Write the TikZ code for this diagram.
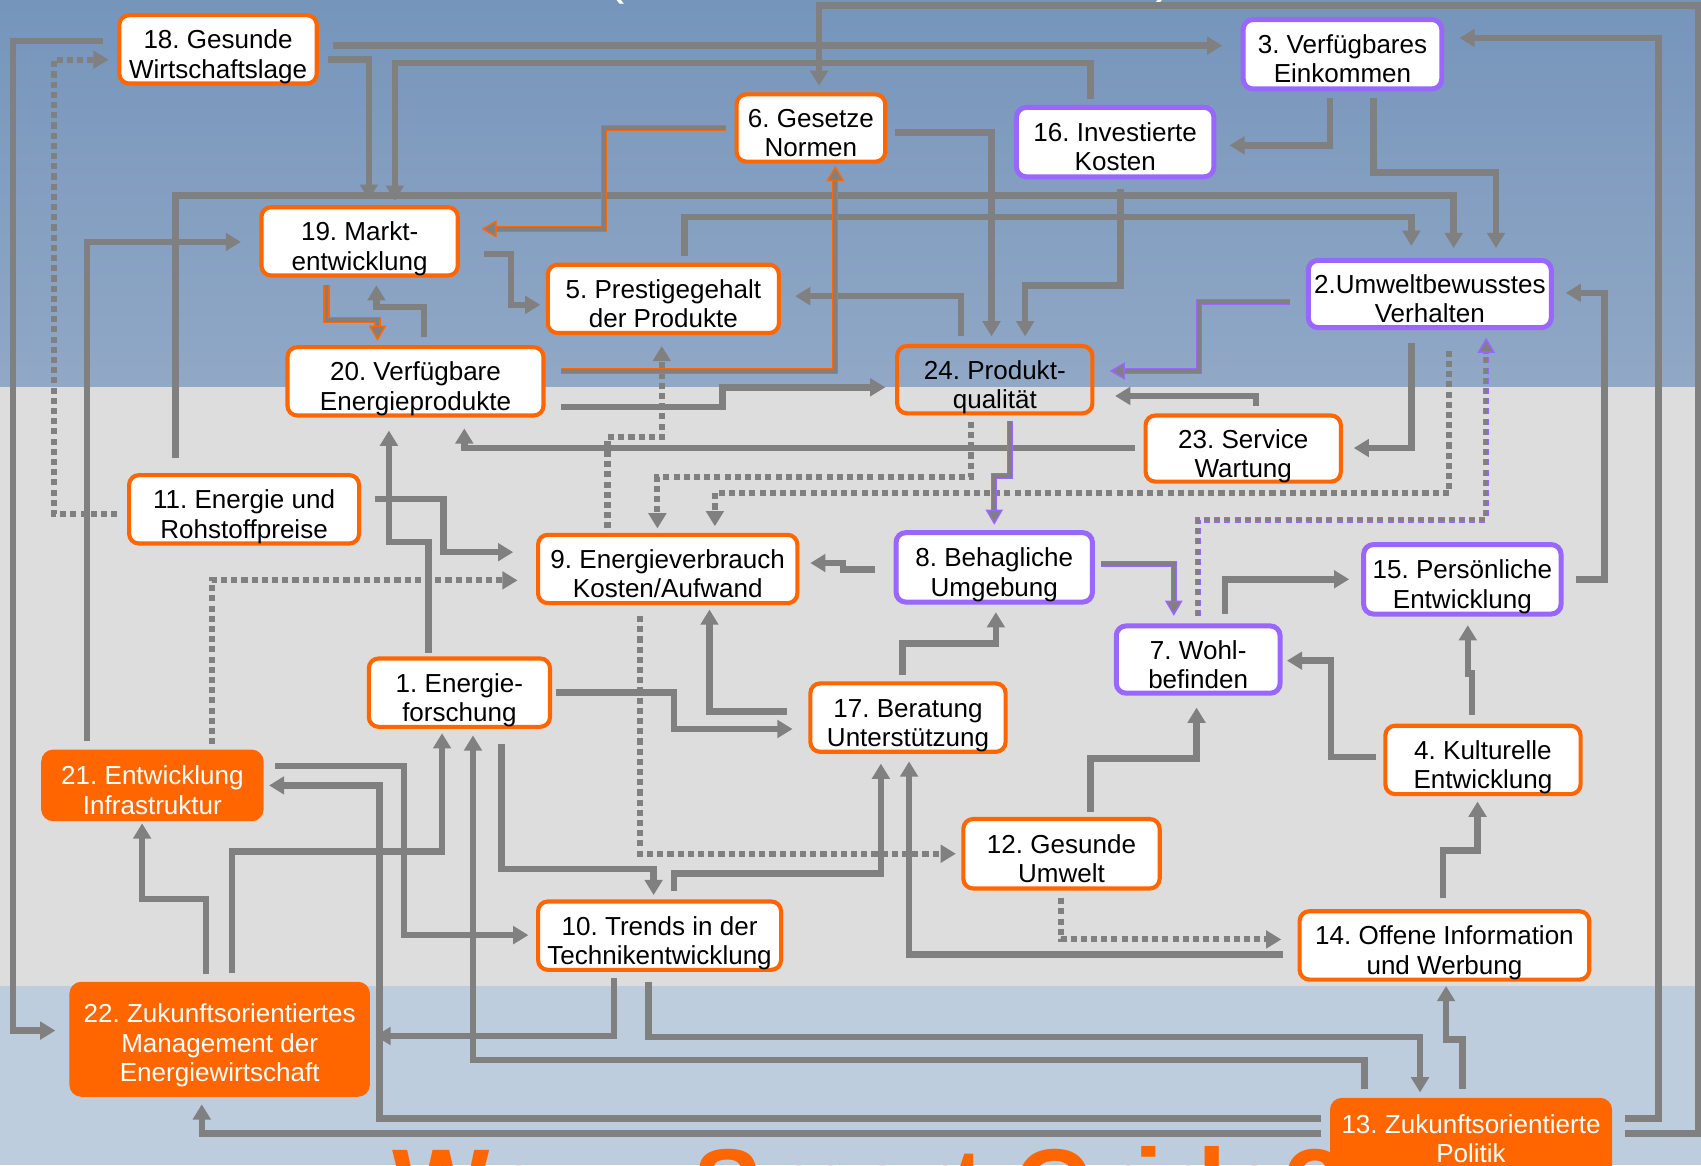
\documentclass[tikz,border=0pt]{standalone}
\usepackage{fontspec}
\setmainfont{Liberation Sans}
\usetikzlibrary{arrows.meta,calc}
\definecolor{lg}{HTML}{808080}
\definecolor{orng}{HTML}{FF6600}
\definecolor{purp}{HTML}{9966FF}
\definecolor{bgtop}{RGB}{118,149,187}
\definecolor{bgmid}{RGB}{145,168,198}
\definecolor{bggray}{RGB}{221,221,221}
\definecolor{bgbot}{RGB}{189,205,221}
\tikzset{
  conn/.style={draw=lg, line width=3pt, line join=miter, ->},
  dconn/.style={conn, line width=2.8pt, dash pattern=on 2.8pt off 1.9pt},
  orout/.style={draw=orng, line width=2.8pt, line join=miter, -{Triangle[length=7pt,width=8pt,fill=lg,line width=0.7pt]}},
  orin/.style={draw=lg, line width=1.8pt, line join=miter, shorten >=7pt},
  puout/.style={orout, draw=purp},
  puin/.style={orin},
  pdout/.style={puout, dash pattern=on 2.8pt off 1.9pt},
  pdin/.style={puin, line width=1.6pt, dash pattern=on 2.8pt off 1.9pt},
  ob/.style={draw=orng, line width=1.9pt, fill=white, rounded corners=4.5pt, inner sep=0pt},
  pb/.style={draw=purp, line width=2.3pt, fill=white, rounded corners=4.5pt, inner sep=0pt},
  fb/.style={draw=orng, fill=orng, line width=1pt, rounded corners=5pt, inner sep=0pt},
  nb/.style={draw=orng, line width=1.9pt, rounded corners=4.5pt, inner sep=0pt},
  lbl/.style={align=center, font=\fontsize{12}{13.5}\selectfont\frenchspacing, inner sep=0pt},
  wlbl/.style={lbl, text=white},
}
\newcommand{\cconn}[3]{\draw[#1] #3; \draw[#2] #3;}
\begin{document}
\begin{tikzpicture}[x=0.5pt, y=-0.5pt, >={Triangle[length=7pt,width=8pt]}]
\useasboundingbox (0,0) rectangle (1568,1074);
\clip (0,0) rectangle (1568,1074);
% background
\shade[top color=bgtop, bottom color=bgmid] (0,0) rectangle (1568,357);
\fill[bggray] (0,357) rectangle (1568,909);
\fill[bgbot] (0,909) rectangle (1568,1074);
% partially visible titles
\node[text=white, font=\fontsize{24}{24}\selectfont, anchor=base, inner sep=0pt] (tpl) at (568,-6) {(};
\node[text=white, font=\fontsize{24}{24}\selectfont, anchor=base, inner sep=0pt] (tpr) at (1072,-6) {)};
\node[text=orng, font=\fontsize{49}{49}\selectfont\bfseries\frenchspacing, anchor=base west, inner sep=0pt, xscale=0.97] (title) at (361,1128) {Wozu Smart Grids?};

% boxes
\node[ob, minimum width=91pt, minimum height=31.5pt] (n18) at (201,45.5) {};
\node[lbl] (t18) at (201,53.1) {\strut 18. Gesunde\\Wirtschaftslage\strut};
\node[pb, minimum width=91.5pt, minimum height=32pt] (n3) at (1237.5,50) {};
\node[lbl] (t3) at (1237.5,57.6) {\strut 3. Verfügbares\\Einkommen\strut};
\node[ob, minimum width=68.5pt, minimum height=31pt] (n6) at (747.5,118) {};
\node[lbl] (t6) at (747.5,125.6) {\strut 6. Gesetze\\Normen\strut};
\node[pb, minimum width=91pt, minimum height=32pt] (n16) at (1028,131) {};
\node[lbl] (t16) at (1028,138.6) {\strut 16. Investierte\\Kosten\strut};
\node[ob, minimum width=90.5pt, minimum height=31.5pt] (n19) at (331.5,222.5) {};
\node[lbl] (t19) at (331.5,230.1) {\strut 19. Markt-\\entwicklung\strut};
\node[ob, minimum width=106.5pt, minimum height=31.5pt] (n5) at (611.5,275.5) {};
\node[lbl] (t5) at (611.5,283.1) {\strut 5. Prestigegehalt\\der Produkte\strut};
\node[pb, minimum width=112pt, minimum height=31pt] (n2) at (1318,271) {};
\node[lbl] (t2) at (1318,278.6) {\strut 2.Umweltbewusstes\\Verhalten\strut};
\node[ob, minimum width=118pt, minimum height=31.5pt] (n20) at (383,351.5) {};
\node[lbl] (t20) at (383,359.1) {\strut 20. Verfügbare\\Energieprodukte\strut};
\node[nb, minimum width=90pt, minimum height=31pt] (n24) at (917,350) {};
\node[lbl] (t24) at (917,357.6) {\strut 24. Produkt-\\qualität\strut};
\node[ob, minimum width=90pt, minimum height=30.5pt] (n23) at (1146,413.5) {};
\node[lbl] (t23) at (1146,421.1) {\strut 23. Service\\Wartung\strut};
\node[ob, minimum width=106pt, minimum height=31.5pt] (n11) at (225,469.5) {};
\node[lbl] (t11) at (225,477.1) {\strut 11. Energie und\\Rohstoffpreise\strut};
\node[ob, minimum width=119.5pt, minimum height=31.5pt] (n9) at (615.5,524.5) {};
\node[lbl] (t9) at (615.5,532.1) {\strut 9. Energieverbrauch\\Kosten/Aufwand\strut};
\node[pb, minimum width=90.5pt, minimum height=32pt] (n8) at (916.5,523) {};
\node[lbl] (t8) at (916.5,530.6) {\strut 8. Behagliche\\Umgebung\strut};
\node[pb, minimum width=91pt, minimum height=32pt] (n15) at (1348,534) {};
\node[lbl] (t15) at (1348,541.6) {\strut 15. Persönliche\\Entwicklung\strut};
\node[pb, minimum width=75.5pt, minimum height=31pt] (n7) at (1104.5,608) {};
\node[lbl] (t7) at (1104.5,615.6) {\strut 7. Wohl-\\befinden\strut};
\node[ob, minimum width=83.5pt, minimum height=31.5pt] (n1) at (423.5,638.5) {};
\node[lbl] (t1) at (423.5,646.1) {\strut 1. Energie-\\forschung\strut};
\node[ob, minimum width=90pt, minimum height=31.5pt] (n17) at (837,661.5) {};
\node[lbl] (t17) at (837,669.1) {\strut 17. Beratung\\Unterstützung\strut};
\node[ob, minimum width=90pt, minimum height=31.5pt] (n4) at (1367,700.5) {};
\node[lbl] (t4) at (1367,708.1) {\strut 4. Kulturelle\\Entwicklung\strut};
\node[fb, minimum width=101.5pt, minimum height=32pt] (n21) at (140.5,724) {};
\node[wlbl] (t21) at (140.5,731.6) {\strut 21. Entwicklung\\Infrastruktur\strut};
\node[ob, minimum width=90.5pt, minimum height=32pt] (n12) at (978.5,787) {};
\node[lbl] (t12) at (978.5,794.6) {\strut 12. Gesunde\\Umwelt\strut};
\node[ob, minimum width=112pt, minimum height=31.5pt] (n10) at (608,862.5) {};
\node[lbl] (t10) at (608,870.1) {\strut 10. Trends in der\\Technikentwicklung\strut};
\node[ob, minimum width=133.5pt, minimum height=31.5pt] (n14) at (1331.5,871.5) {};
\node[lbl] (t14) at (1331.5,879.1) {\strut 14. Offene Information\\und Werbung\strut};
\node[fb, minimum width=137.5pt, minimum height=52pt] (n22) at (202.5,958) {};
\node[wlbl] (t22) at (202.5,964.6) {\strut 22. Zukunftsorientiertes\\Management der\\Energiewirtschaft\strut};
\node[fb, minimum width=129pt, minimum height=46pt] (n13) at (1356,1059) {};
\node[wlbl] (t13) at (1356,1053) {\strut 13. Zukunftsorientierte\\Politik\strut};

% gray connectors
\draw[conn] ($(n18.west)+(-13,-7.5)$) -- (12,38) -- (12,950) -- ($(n22.west)+(-13,-8)$);
\draw[dconn] ($(n11.west)+(-9,4.5)$) -- (50,474) -- (50,55) -- ($(n18.west)+(-8,9.5)$);
\draw[conn] ($(n18.east)+(13,-3.5)$) -- ($(n3.west)+(-17,-8)$);
\draw[conn] ($(n18.east)+(8,9.5)$) -- (340,55) -- ($(n19.north)+(8.5,-5)$);
\draw[conn] ($(n16.north)+(-23,-5)$) -- (1005,58) -- (364,58) -- ($(n19.north)+(32.5,-4)$);
\draw[conn] ($(n13.east)+(12,-14)$) -- (1565,1045) -- (1565,5) -- (755,5) -- ($(n6.north)+(7.5,-6)$);
\draw[conn] ($(n13.east)+(12,-28)$) -- (1529,1031) -- (1529,35) -- ($(n3.east)+(14,-15)$);
\draw[conn] ($(n3.south)+(-11.5,6)$) -- (1226,134) -- ($(n16.east)+(12,3)$);
\draw[conn] ($(n3.south)+(28.5,6)$) -- (1266,159) -- (1379,159) -- ($(n2.north)+(61,-9)$);
\draw[conn] ($(n11.north)+(-63,-14)$) -- (162,180) -- (1340,180) -- ($(n2.north)+(22,-9)$);
\draw[conn] ($(n5.north)+(19.5,-6)$) -- (631,200) -- (1301,200) -- ($(n2.north)+(-17,-11)$);
\draw[conn] ($(n6.east)+(7,4)$) -- (914,122) -- ($(n24.north)+(-3,-7)$);
\draw[conn] ($(n16.south)+(5,9)$) -- (1033,263) -- (945,263) -- ($(n24.north)+(28,-7)$);
\draw[conn] ($(n20.north)+(8,-7)$) -- (391,283) -- (347,283) -- ($(n19.south)+(15.5,7)$);
\draw[conn] ($(n19.east)+(22,11.5)$) -- (471,234) -- (471,281) -- ($(n5.west)+(-5,5.5)$);
\draw[conn] ($(n24.north)+(-31,-7)$) -- (886,273) -- ($(n5.east)+(13,-2.5)$);
\draw[conn] ($(n20.east)+(14,23.5)$) -- (666,375) -- (666,357) -- ($(n24.west)+(-9,7)$);
\draw[dconn] ($(n9.north)+(-55.5,-4)$) -- (560,403) -- (610,403) -- ($(n5.south)+(-1.5,10)$);
\draw[conn] ($(n21.north)+(-60.5,-8)$) -- (80,223) -- ($(n19.west)+(-17,0.5)$);
\draw[conn] ($(n23.north)+(12,-7)$) -- (1158,365) -- ($(n24.east)+(19,15)$);
\draw[conn] ($(n23.west)+(-8,-0.5)$) -- (428,413) -- ($(n20.south)+(45,10)$);
\draw[conn] ($(n2.south)+(-17,12)$) -- (1301,413) -- ($(n23.east)+(10,-0.5)$);
\draw[conn] ($(n15.east)+(11,0)$) -- (1479,534) -- (1479,270) -- ($(n2.east)+(11,-1)$);
\draw[dconn] ($(n24.south)+(-22,6)$) -- (895,440) -- (606,440) -- ($(n9.north)+(-9.5,-4)$);
\draw[dconn] ($(n2.south)+(18,19)$) -- (1336,454.5) -- (659,454.5) -- ($(n9.north)+(43.5,-6)$);
\draw[conn] ($(n8.west)+(-17,2)$) -- (777,525) -- (777,519) -- ($(n9.east)+(10,-5.5)$);
\draw[conn] ($(n7.north)+(24.5,-9)$) -- (1129,534) -- ($(n15.west)+(-11,0)$);
\draw[conn] ($(n4.north)+(-10,-8)$) -- (1357,621) -- (1353,621) -- ($(n15.south)+(5,8)$);
\draw[conn] ($(n4.west)+(-7,-2.5)$) -- (1227,698) -- (1227,609) -- ($(n7.east)+(4,1)$);
\draw[conn] ($(n17.north)+(-5,-6)$) -- (832,593) -- (918,593) -- ($(n8.south)+(1.5,7)$);
\draw[conn] ($(n12.north)+(26.5,-5)$) -- (1005,699) -- (1103,699) -- ($(n7.south)+(-1.5,11)$);
\draw[conn] ($(n14.north)+(-1.5,-10)$) -- (1330,784) -- (1362,784) -- ($(n4.south)+(-5,5)$);
\draw[conn] ($(n11.east)+(13,-9.5)$) -- (409,460) -- (409,509) -- ($(n9.west)+(-21,-15.5)$);
\draw[dconn] ($(n21.north)+(54.5,-5)$) -- (195,535) -- ($(n9.west)+(-17,10.5)$);
\draw[conn] ($(n1.north)+(-28.5,-3)$) -- (395,499.5) -- (358.5,499.5) -- ($(n20.south)+(-24.5,12)$);
\draw[conn] ($(n1.east)+(4,0)$) -- (621.5,638.5) -- (621.5,672) -- ($(n17.west)+(-14.5,10.5)$);
\draw[conn] ($(n17.west)+(-19.5,-5.5)$) -- (654,656) -- ($(n9.south)+(38.5,4)$);
\draw[dconn] ($(n9.south)+(-25.5,10)$) -- (590,787) -- ($(n12.west)+(-5,0)$);
\draw[conn] ($(n1.south)+(39,14)$) -- (462.5,801) -- (602.5,801) -- ($(n10.north)+(-5.5,-4)$);
\draw[conn] ($(n10.north)+(13.5,-8)$) -- (621.5,805) -- (812,805) -- ($(n17.south)+(-25,9)$);
\draw[conn] ($(n22.north)+(11.5,-8)$) -- (214,785) -- (407.5,785) -- ($(n1.south)+(-16,4)$);
\draw[conn] ($(n21.east)+(10.5,-18)$) -- (372.5,706) -- (372.5,862) -- ($(n10.west)+(-7,-0.5)$);
\draw[conn] ($(n13.west)+(-8,-28)$) -- (350,1031) -- (350,724) -- ($(n21.east)+(5,0)$);
\draw[conn] ($(n22.north)+(-12.5,-7)$) -- (190,828.5) -- (131,828.5) -- ($(n21.south)+(-9.5,2)$);
\draw[conn] ($(n13.north)+(-98,-8)$) -- (1258,977) -- (436,977) -- ($(n1.south)+(12.5,6)$);
\draw[conn] ($(n10.south)+(-10,9)$) -- (598,956) -- (1309,956) -- ($(n13.north)+(-47,-5)$);
\draw[conn] ($(n10.south)+(-42,6)$) -- (566,955) -- ($(n22.east)+(5,-3)$);
\draw[conn] ($(n13.west)+(-8,-14)$) -- (186,1045) -- ($(n22.south)+(-16.5,7)$);
\draw[conn] ($(n13.north)+(-8,-8)$) -- (1348,958) -- (1333,958) -- ($(n14.south)+(1.5,4)$);
\draw[dconn] ($(n12.south)+(-0.5,7)$) -- (978,866) -- ($(n14.west)+(-15,-5.5)$);
\draw[conn] ($(n14.west)+(-13,8.5)$) -- (838,880) -- ($(n17.south)+(1,7)$);

% coloured connectors
\cconn{orout}{orin}{($(n6.west)+(-8,0)$) -- (557,118) -- (557,211) -- ($(n19.east)+(20,-11.5)$)}
\cconn{orout}{orin}{($(n20.east)+(14,-9.5)$) -- (770,342) -- ($(n6.south)+(22.5,2)$)}
\cconn{orout}{orin}{($(n19.south)+(-30.5,7)$) -- (301,295) -- (348,295) -- ($(n20.north)+(-35,-4)$)}
\cconn{puout}{puin}{($(n2.west)+(-15,7)$) -- (1105,278) -- (1105,342) -- ($(n24.east)+(14,-8)$)}
\cconn{puout}{puin}{($(n24.south)+(14,5)$) -- (931,439) -- (916.5,439) -- ($(n8.north)+(0,-5)$)}
\cconn{puout}{puin}{($(n8.east)+(6,-3)$) -- (1082,520) -- ($(n7.north)+(-22.5,-7)$)}
\cconn{pdout}{pdin}{($(n7.north)+(0,-7)$) -- (1104.5,479) -- (1370,479) -- ($(n2.south)+(52,7)$)}
\end{tikzpicture}
\end{document}
